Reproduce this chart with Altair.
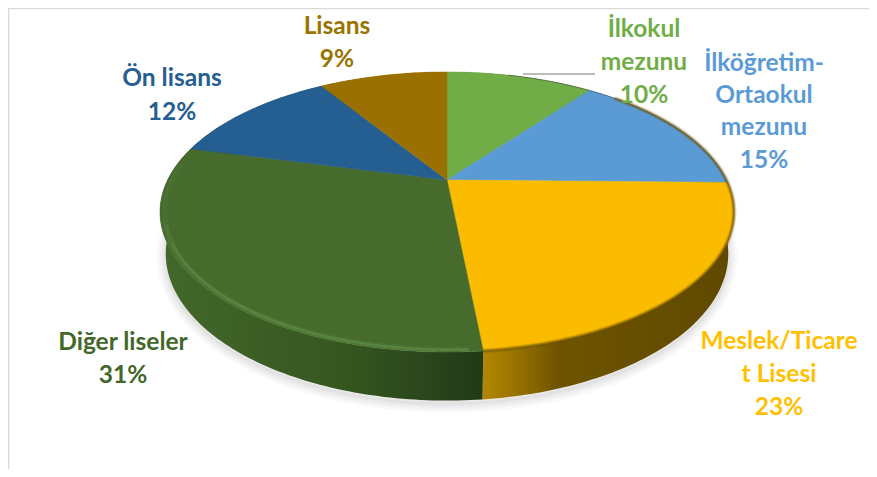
import math
import altair as alt

categories = ["İlkokul mezunu", "İlköğretim-Ortaokul mezunu", "Meslek/Ticaret Lisesi", "Diğer liseler", "Ön lisans", "Lisans"]
shares = [10.3, 15.0, 23.1, 30.6, 12.0, 9.0]
top_colors = ["#70AD47", "#5B9BD5", "#FBBC00", "#466B2D", "#255E91", "#9A7100"]
text_colors = ["#70AD47", "#5B9BD5", "#FFC000", "#43682B", "#255E91", "#997300"]
side_stops = [
    [(0, "#4A7A2E"), (1, "#4A7A2E")],
    [(0, "#2F5F8A"), (1, "#2F5F8A")],
    [(0, "#B38700"), (0.1, "#A07800"), (0.3, "#6E5400"), (1, "#5F4900")],
    [(0, "#43682B"), (0.6, "#35551F"), (0.9, "#26401A"), (1, "#223A17")],
    [(0, "#1A4A70"), (1, "#1A4A70")],
    [(0, "#6B5000"), (1, "#6B5000")],
]

APEX_X, APEX_Y = 439.0, 172.0   # pie apex in chart pixels
TILT, HALF_H, HALF_W, DEPTH = 0.2285, 132.7, 279.4, 40.0


def rim(frac, r=1.0, dy=0.0, sx=1.0, sy=1.0):
    t = 2 * math.pi * frac
    u, v = r * math.sin(t), r * math.cos(t)
    d = 1 + TILT * v
    return [APEX_X + sx * HALF_W * u / d, APEX_Y - sy * HALF_H * v / d + dy]


def arc(a, b, r=1.0, dy=0.0, sx=1.0, sy=1.0):
    n = max(2, int(abs(b - a) * 360))
    return [rim(a + (b - a) * i / n, r, dy, sx, sy) for i in range(n + 1)]


def base_arc(a, b):
    return arc(a, b, 1.0, DEPTH, 0.98, 1.05)


def poly(points):
    return {"type": "Feature", "properties": {},
            "geometry": {"type": "Polygon", "coordinates": [points + [points[0]]]}}


def linestr(points):
    return {"type": "Feature", "properties": {},
            "geometry": {"type": "LineString", "coordinates": points}}


def shape(feature, **kw):
    return alt.Chart(alt.Data(values=[feature])).mark_geoshape(**kw).project(
        type="identity", scale=1, translate=[0, 0])


edges = [0]
for s in shares:
    edges.append(edges[-1] + s / 100)

layers = []

# frame
layers.append(shape(linestr([[0.5, 461], [0.5, 0.5], [861, 0.5]]), filled=False, stroke="#D9D9D9", strokeWidth=1.6))

# soft shadow
silhouette = linestr(arc(0, 1, 1.0, DEPTH + 3, 0.98, 1.05))
for w in [18, 13, 9, 5, 2]:
    layers.append(shape(silhouette, filled=False, stroke="#000000", strokeOpacity=0.025, strokeWidth=w))

# side walls
for i, stops in enumerate(side_stops):
    a = arc(edges[i], edges[i + 1])
    b = base_arc(edges[i + 1], edges[i])
    fill = alt.LinearGradient(gradient="linear", x1=0, x2=1, y1=0, y2=0,
                              stops=[alt.GradientStop(offset=o, color=c) for o, c in stops])
    layers.append(shape(poly(a + b), fill=fill, strokeWidth=0))

# top surface
for i, c in enumerate(top_colors):
    pts = [[APEX_X, APEX_Y]] + arc(edges[i], edges[i + 1])
    layers.append(shape(poly(pts), fill=c, stroke=c, strokeWidth=0.5))

# bevel on the front rim
for a0, a1, w, o in [(0.49, 0.70, 6, 0.12), (0.49, 0.68, 3.5, 0.22), (0.49, 0.66, 1.5, 0.35), (0.66, 0.77, 5, 0.10)]:
    layers.append(shape(linestr(arc(a0, a1, 0.985, 1.0)), filled=False,
                        stroke="#6F9F54", strokeWidth=w, strokeOpacity=o))
for w, o in [(5, 0.18), (3, 0.3), (1.5, 0.5)]:
    layers.append(shape(linestr(arc(edges[1] + 0.02, edges[3], 1.0, 0.0)), filled=False,
                        stroke="#6B5000", strokeWidth=w, strokeOpacity=o))
layers.append(shape(linestr(arc(edges[1] - 0.06, edges[1] + 0.02, 1.0, 0.0)), filled=False,
                    stroke="#3A3A3A", strokeWidth=1, strokeOpacity=0.5))

# leader line
layers.append(shape(linestr([[515, 66], [587, 66]]), filled=False, stroke="#A6A6A6", strokeWidth=1.5))


def label(text, x, y, color):
    return alt.Chart(alt.Data(values=[{}])).mark_text(
        font="Lato", fontWeight="bold", fontSize=24.5, align="center", baseline="middle", color=color
    ).encode(x=alt.value(x - 8), y=alt.value(y - 8), text=alt.value(text))


for line, x, y, ci in [
    ("İlkokul", 644, 30, 0), ("mezunu", 644, 63, 0), ("10%", 644, 96, 0),
    ("İlköğretim-", 764, 64, 1), ("Ortaokul", 764, 96, 1), ("mezunu", 764, 128, 1), ("15%", 764, 161, 1),
    ("Meslek/Ticare", 779, 342, 2), ("t Lisesi", 779, 375, 2), ("23%", 779, 408, 2),
    ("Diğer liseler", 123, 343, 3), ("31%", 123, 376, 3),
    ("Ön lisans", 172, 79, 4), ("12%", 172, 113, 4),
    ("Lisans", 337, 27, 5), ("9%", 337, 60, 5),
]:
    layers.append(label(line, x, y, text_colors[ci]))

chart = alt.layer(*layers).properties(
    width=861, height=461, padding=0, autosize="none", background="white"
).configure_view(stroke=None)

chart.save("out.html", embed_options={"renderer": "svg", "actions": False})
